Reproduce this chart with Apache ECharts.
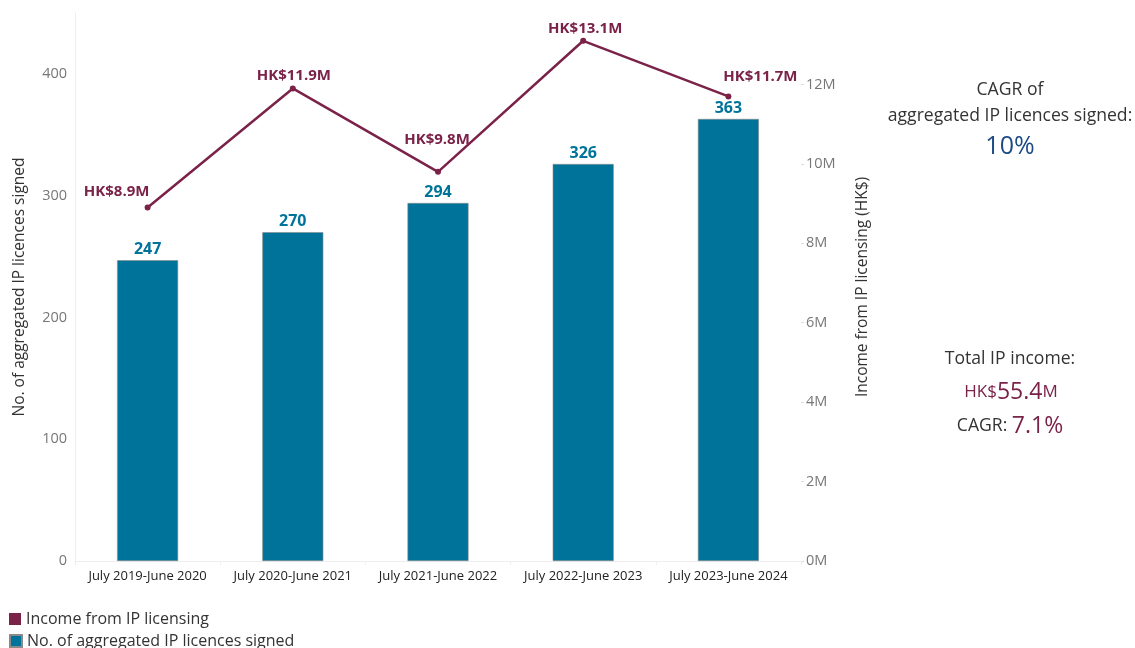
<!DOCTYPE html>
<html><head><meta charset="utf-8">
<script src="https://cdn.jsdelivr.net/npm/echarts@6/dist/echarts.min.js"></script>
<style>html,body{margin:0;padding:0;background:#fff}#c{width:1135px;height:648px}</style>
</head><body><div id="c"></div>
<script>
const categories = ['July 2019-June 2020','July 2020-June 2021','July 2021-June 2022','July 2022-June 2023','July 2023-June 2024'];
const licences = [247, 270, 294, 326, 363];
const income = [8.9e6, 11.9e6, 9.8e6, 13.1e6, 11.7e6];
const incomeLabels = ['HK$8.9M','HK$11.9M','HK$9.8M','HK$13.1M','HK$11.7M'];
const incomeLabelOffsets = [[-31,0],[1,3],[-1,-17],[2,3],[32,-4]];

const FONT = '"Open Sans", Lato, sans-serif';
const TEAL = '#00739a';
const MAROON = '#7b2249';
const legendText = {fontFamily:FONT, fontSize:16, color:'#333'};

const chart = echarts.init(document.getElementById('c'), null, {renderer:'canvas'});
chart.setOption({
  animation:false,
  textStyle:{fontFamily:FONT},
  grid:{left:75, right:334, top:13, bottom:87},
  legend:[
    {left:9, top:611, itemWidth:12, itemHeight:12, icon:'rect', padding:[0,0,0,0],
     data:['Income from IP licensing'], textStyle:legendText, selectedMode:false},
    {left:9, top:633, itemWidth:12, itemHeight:12, icon:'rect', padding:[0,0,0,0],
     data:['No. of aggregated IP licences signed'], textStyle:legendText, selectedMode:false}
  ],
  xAxis:{
    type:'category', data:categories,
    axisLine:{show:true, lineStyle:{color:'#eeeeee'}},
    axisTick:{show:true, length:4, lineStyle:{color:'#eeeeee'}},
    axisLabel:{color:'#222', fontSize:13, fontFamily:FONT, margin:9, interval:0}
  },
  yAxis:[
    {type:'value', min:0, max:450, interval:100,
     name:'No. of aggregated IP licences signed', nameLocation:'middle', nameGap:47, nameRotate:90,
     nameTextStyle:{fontSize:15.5, color:'#333', fontFamily:FONT},
     axisLine:{show:true, lineStyle:{color:'#eeeeee'}},
     axisTick:{show:false}, splitLine:{show:false},
     axisLabel:{color:'#777', fontSize:14.5, margin:8, showMaxLabel:false}},
    {type:'value', min:0, max:13.8e6, interval:2e6, position:'right',
     name:'Income from IP licensing (HK$)', nameLocation:'middle', nameGap:54, nameRotate:90,
     nameTextStyle:{fontSize:15.5, color:'#333', fontFamily:FONT},
     axisLine:{show:false}, axisTick:{show:true, length:3, lineStyle:{color:'#dddddd'}},
     splitLine:{show:false},
     axisLabel:{color:'#777', fontSize:14.5, margin:5, showMaxLabel:false,
       formatter:v=>(v/1e6)+'M'}}
  ],
  series:[
    {name:'No. of aggregated IP licences signed', type:'bar', yAxisIndex:0, data:licences,
     barWidth:61, itemStyle:{color:TEAL, borderColor:'#8a8a8a', borderWidth:0.6},
     label:{show:true, position:'top', distance:3, color:TEAL, fontWeight:'bold', fontSize:16, fontFamily:FONT}},
    {name:'Income from IP licensing', type:'line', yAxisIndex:1,
     data:income.map((v,i)=>({value:v, label:{offset:incomeLabelOffsets[i]}})),
     symbol:'circle', symbolSize:6, lineStyle:{color:MAROON, width:2.5}, itemStyle:{color:MAROON},
     label:{show:true, position:'top', distance:5, color:MAROON, fontWeight:'bold', fontSize:15, fontFamily:FONT,
       formatter:p=>incomeLabels[p.dataIndex]}}
  ],
  graphic:[
    {type:'text', x:1010, y:90, style:{text:'CAGR of', font:'17.6px '+FONT, fill:'#333', align:'center', verticalAlign:'middle'}},
    {type:'text', x:1010, y:116, style:{text:'aggregated IP licences signed:', font:'17.6px '+FONT, fill:'#333', align:'center', verticalAlign:'middle'}},
    {type:'text', x:1010, y:147, style:{text:'10%', font:'25px '+FONT, fill:'#1b4a85', align:'center', verticalAlign:'middle'}},
    {type:'text', x:1010, y:359, style:{text:'Total IP income:', font:'17.6px '+FONT, fill:'#333', align:'center', verticalAlign:'middle'}},
    {type:'text', x:1011, y:392, style:{
      text:'{s|HK$}{b|55.4}{s|M}', align:'center', verticalAlign:'middle',
      rich:{s:{fontSize:17, fontFamily:FONT, fill:MAROON}, b:{fontSize:23, fontFamily:FONT, fill:MAROON}}}},
    {type:'text', x:1010, y:426, style:{
      text:'{s|CAGR: }{b|7.1%}', align:'center', verticalAlign:'middle',
      rich:{s:{fontSize:17.6, fontFamily:FONT, fill:'#333'}, b:{fontSize:23, fontFamily:FONT, fill:MAROON}}}}
  ]
});
</script></body></html>
